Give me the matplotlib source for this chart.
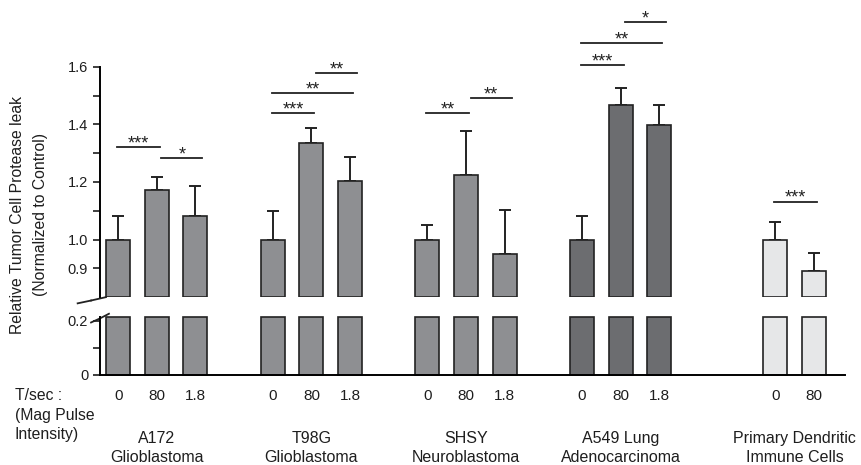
import numpy as np
import matplotlib
matplotlib.use("Agg")
import matplotlib.pyplot as plt
import matplotlib.transforms as mtrans

plt.rcParams['font.family'] = ['Liberation Sans', 'DejaVu Sans']

# data
groups = ["A172\nGlioblastoma", "T98G\nGlioblastoma", "SHSY\nNeuroblastoma",
          "A549 Lung\nAdenocarcinoma", "Primary Dendritic\nImmune Cells"]
pulse_labels = [["0", "80", "1.8"], ["0", "80", "1.8"], ["0", "80", "1.8"],
                ["0", "80", "1.8"], ["0", "80"]]
means = [[1.00, 1.173, 1.081], [1.00, 1.334, 1.202], [1.00, 1.223, 0.951],
         [1.00, 1.466, 1.397], [1.00, 0.890]]
err_top = [[1.081, 1.216, 1.185], [1.100, 1.386, 1.285], [1.049, 1.376, 1.104],
           [1.083, 1.525, 1.466], [1.060, 0.952]]
# significance: (group, bar_i, bar_j, level, stars)
sig = [(0, 0, 1, 1.321, "***"), (0, 1, 2, 1.282, "*"),
       (1, 0, 1, 1.438, "***"), (1, 0, 2, 1.508, "**"), (1, 1, 2, 1.577, "**"),
       (2, 0, 1, 1.438, "**"), (2, 1, 2, 1.490, "**"),
       (3, 0, 1, 1.605, "***"), (3, 0, 2, 1.682, "**"), (3, 1, 2, 1.755, "*"),
       (4, 0, 1, 1.132, "***")]

colors = ["#8e8f92", "#8e8f92", "#8e8f92", "#6c6d70", "#e6e7e8"]
group_start = [0, 4, 8, 12, 17]
edge = "#222222"
txt = "#1e1e1e"

upper_floor, upper_top = 0.8, 1.78
lower_top = 0.215

fig = plt.figure(figsize=(8.62, 4.65), dpi=100)
ax_up = fig.add_axes([0.116, 0.361, 0.864, 0.607])
ax_lo = fig.add_axes([0.116, 0.194, 0.864, 0.125])

xs_all = []
for g in range(len(groups)):
    xs = group_start[g] + np.arange(len(means[g]))
    xs_all.append(xs)
    m = np.array(means[g])
    e = np.array(err_top[g]) - m
    ax_up.bar(xs, m - upper_floor, bottom=upper_floor, width=0.62,
              color=colors[g], edgecolor=edge, linewidth=1.2, zorder=2)
    ax_up.errorbar(xs, m, yerr=[np.zeros_like(e), e], fmt="none",
                   ecolor=edge, elinewidth=1.4, capsize=4, capthick=1.4, zorder=1)
    ax_lo.bar(xs, np.minimum(m, lower_top), width=0.62, color=colors[g],
              edgecolor=edge, linewidth=1.2, zorder=2, clip_on=False)

for g, i, j, lev, stars in sig:
    if i > 0:
        x0, x1 = xs_all[g][i] + 0.12, xs_all[g][j] + 0.18
    else:
        x0, x1 = xs_all[g][i] - 0.03, xs_all[g][j] + 0.08
    ax_up.plot([x0, x1], [lev, lev], color=edge, lw=1.3)
    ax_up.text((x0 + x1) / 2, lev - 0.004, stars, ha="center", va="baseline",
               fontsize=13, color=edge)

xlim = (-0.47, 18.8)
for ax in (ax_up, ax_lo):
    ax.set_xlim(*xlim)
    ax.set_xticks([])
    ax.spines["top"].set_visible(False)
    ax.spines["right"].set_visible(False)
    ax.spines["left"].set_linewidth(1.4)
    ax.tick_params(axis="y", direction="out", length=5, width=1.2,
                   labelsize=10.5, colors=txt)

ax_up.set_ylim(upper_floor, upper_top)
ax_up.spines["bottom"].set_visible(False)
ax_up.spines["left"].set_bounds(upper_floor, 1.6)
ax_up.set_yticks([0.9, 1.0, 1.1, 1.2, 1.3, 1.4, 1.5, 1.6])
ax_up.set_yticklabels(["0.9", "1.0", "", "1.2", "", "1.4", "", "1.6"])

ax_lo.set_ylim(0, lower_top)
ax_lo.spines["bottom"].set_linewidth(1.4)
ax_lo.set_yticks([0, 0.1, 0.2])
ax_lo.set_yticklabels(["0", "", "0.2"])

# break marks
ax_up.plot([-0.012, 0.008], [-0.012, 0.0], transform=ax_up.transAxes,
           color=edge, lw=1.3, clip_on=False)
ax_up.plot([-0.03, -0.012], [-0.022, -0.012], transform=ax_up.transAxes,
           color=edge, lw=1.3, clip_on=False)
ax_lo.plot([-0.012, 0.0, 0.012], [0.9, 0.97, 1.05], transform=ax_lo.transAxes,
           color=edge, lw=1.3, clip_on=False)


def fy(py):
    return 1 - py / 465


fig.text(18 / 862, fy(215), "Relative Tumor Cell Protease leak",
         rotation=90, ha="center", va="center", fontsize=11.3, color=txt)
fig.text(41 / 862, fy(215), "(Normalized to Control)",
         rotation=90, ha="center", va="center", fontsize=11.3, color=txt)

trans = mtrans.blended_transform_factory(ax_lo.transData, fig.transFigure)
for g in range(len(groups)):
    for x, lab in zip(xs_all[g], pulse_labels[g]):
        fig.text(x, fy(396), lab, transform=trans, ha="center",
                 va="center", fontsize=11, color=txt)
    for k, line in enumerate(groups[g].split("\n")):
        fig.text(xs_all[g].mean(), fy(438 + 19 * k), line, transform=trans,
                 ha="center", va="center", fontsize=11.5, color=txt)

for k, line in enumerate(["T/sec :", "(Mag Pulse", "Intensity)"]):
    fig.text(15 / 862, fy(396 + 19 * k), line, ha="left", va="center",
             fontsize=11.3, color=txt)

fig.savefig("out.png", dpi=100)
